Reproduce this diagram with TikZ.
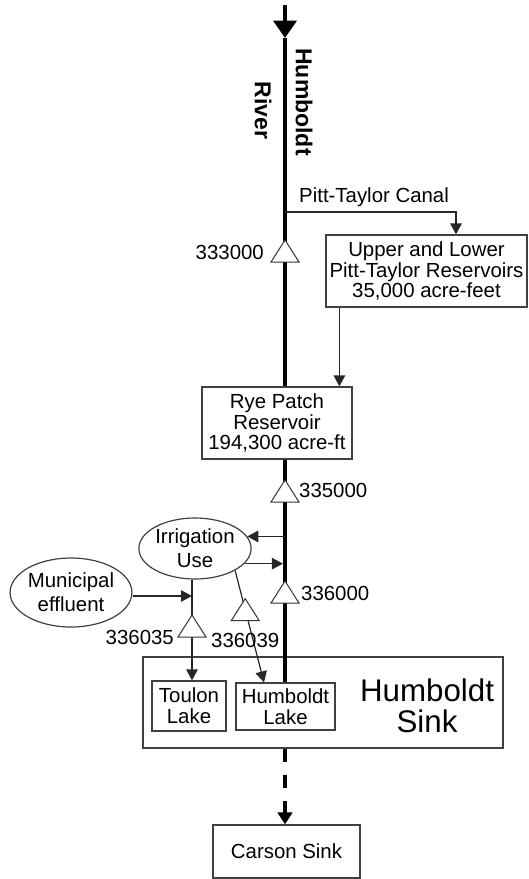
\documentclass[tikz,border=0pt]{standalone}
\usepackage{fontspec}
\setmainfont{Liberation Sans}
\usetikzlibrary{arrows.meta,shapes.geometric}

\begin{document}
\begin{tikzpicture}[x=1pt,y=-1pt,
        every node/.style={font=\fontsize{20.4}{20.8}\selectfont,inner sep=0pt},
        flow/.style={draw=black!85,line width=1.2pt},
        tip/.style={-{Triangle[length=11pt,width=11.5pt]}},
        river/.style={line width=4.2pt},
        basin/.style={draw=black!75,line width=1.2pt,fill=white,align=center},
        use/.style={basin,ellipse,font=\fontsize{20.4}{24}\selectfont},
        gauge/.style={draw=black!80,line width=1pt,fill=white}]

        \useasboundingbox (0,0) rectangle (529,879);

        \node[basin,minimum width=360pt,minimum height=91pt] (sink) at (323,702.5) {};
        \node[font=\fontsize{31.3}{31.5}\selectfont,align=center] (sinklabel) at (427,706) {Humboldt\\Sink};
        \node[basin,minimum width=201pt,minimum height=72pt] (upper) at (426.5,271) {Upper and Lower\\Pitt-Taylor Reservoirs\\35,000 acre-feet};
        \node[basin,minimum width=150pt,minimum height=72pt] (rye) at (277,423) {Rye Patch\\Reservoir\\194,300 acre-ft};
        \node[use,minimum width=98pt,minimum height=61pt] (irr) at (195,548.5) {Irrigation\\Use};
        \node[use,minimum width=114pt,minimum height=69pt] (mun) at (71,592.5) {Municipal\\effluent};
        \node[basin,minimum width=74pt,minimum height=50pt] (toulon) at (189,706) {Toulon\\Lake};
        \node[basin,minimum width=99pt,minimum height=47pt] (hlake) at (285.5,706.5) {Humboldt\\Lake};
        \node[basin,minimum width=147pt,minimum height=53pt] (carson) at (286.5,851.5) {Carson Sink};

        \coordinate (source) at (285,5);
        \coordinate (rtip) at (285,38);
        \draw[river,-{Triangle[length=17.5pt,width=23pt]}] (source) -- (rtip);
        \draw[river] (rtip) -- (rtip |- rye.north);
        \draw[river] (rye.south -| rtip) -- (rtip |- hlake.north);
        \draw[river,line width=3.5pt,dash pattern=on 13pt off 13pt,-{Triangle[length=12pt,width=14.5pt]}] (sink.south -| rtip) -- (rtip |- carson.north);

        \coordinate (split) at (285,212);
        \draw[flow,tip] (split) -| ([xshift=29.5pt]upper.north);
        \node[anchor=west] (canal) at (299,197) {Pitt-Taylor Canal};
        \draw[flow,tip] ([xshift=14pt]upper.south west) -- ([xshift=14pt]upper.south west |- rye.north);

        \draw[flow,tip] (irr.13 -| rtip) -- (irr.13);
        \draw[flow,tip,shorten >=2.1pt] (irr.-17) -- (irr.-17 -| rtip);
        \coordinate (irrout) at ([xshift=-3pt]irr.south);
        \draw[flow,tip] (irrout) -- (irrout |- toulon.north);
        \draw[flow,tip] ([yshift=-3.5pt]mun.east) -- ([yshift=-3.5pt]mun.east -| irrout);
        \draw[flow,tip] (irr.south east) -- coordinate[pos=0.35] (g336039) ([xshift=-21.5pt]hlake.north);

        \coordinate (g333000) at (285,251);
        \coordinate (g335000) at (285,491);
        \coordinate (g336000) at (285,592);
        \coordinate (g336035) at (192,626);
        \foreach \g in {g333000,g335000,g336000,g336035,g336039}
            \draw[gauge] ([shift={(-14,11)}]\g) -- ([shift={(0,-11)}]\g) -- ([shift={(14,11)}]\g) -- cycle;

        \node[anchor=east] (l333000) at (264,252) {333000};
        \node[anchor=west] (l335000) at (299,490) {335000};
        \node[anchor=west] (l336000) at (301,593) {336000};
        \node[anchor=east] (l336035) at (174,637) {336035};
        \node[anchor=west] (l336039) at (211,640) {336039};

        \node[rotate=-90,font=\bfseries\fontsize{23}{23}\selectfont] (hname) at (304,102) {Humboldt};
        \node[rotate=-90,font=\bfseries\fontsize{23}{23}\selectfont] (rname) at (263,110.5) {River};
\end{tikzpicture}
\end{document}
